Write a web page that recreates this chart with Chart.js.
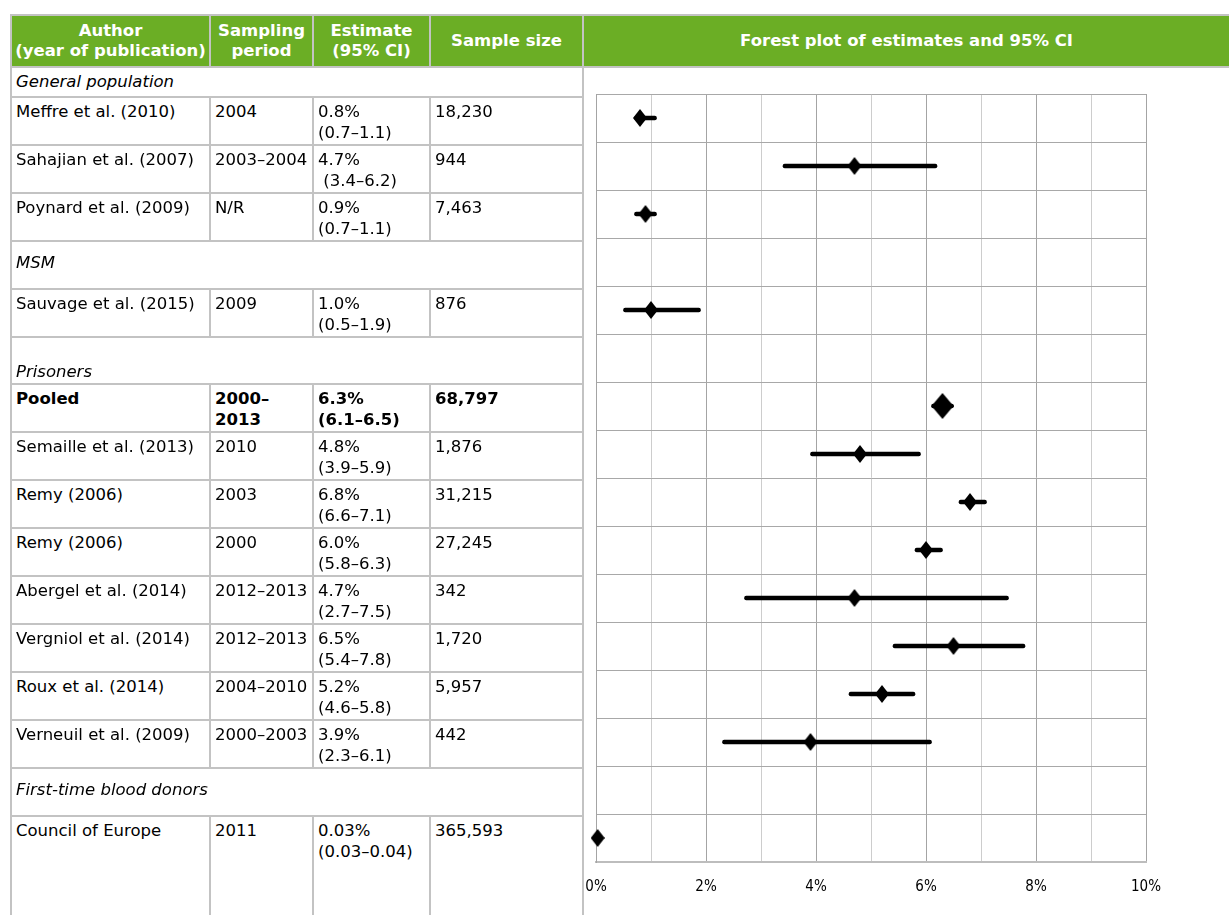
<!DOCTYPE html>
<html>
<head>
<meta charset="utf-8">
<script src="https://cdn.jsdelivr.net/npm/chart.js@4.4.0/dist/chart.umd.min.js"></script>
<style>
    body { margin: 0; background: #fff; font-family: "DejaVu Sans", Verdana, sans-serif; }
    #page { position: relative; width: 1229px; height: 915px; overflow: hidden; }
    .cell { position: absolute; box-sizing: border-box; overflow: hidden; font-size: 16.5px; line-height: 21px; padding: 3px 4px; white-space: pre; color: #000; }
    .line { position: absolute; background: #c3c3c3; }
    .head { position: absolute; box-sizing: border-box; background: #6bae25; color: #fff; font-weight: bold; font-size: 16.5px; line-height: 20px; display: flex; align-items: center; justify-content: center; text-align: center; }
    #chartBox { position: absolute; left: 584px; top: 67px; width: 645px; height: 848px; }
</style>
</head>
<body>
<div id="page">
    <div id="chartBox"><canvas id="forest" width="645" height="848"></canvas></div>
</div>
<script>
// Table / chart data
const headers = ["Author\n(year of publication)", "Sampling\nperiod", "Estimate\n(95% CI)", "Sample size"];
const plotTitle = "Forest plot of estimates and 95% CI";
const firstGroup = "General population";

const rowLabels = ["Meffre et al. (2010)", "Sahajian et al. (2007)", "Poynard et al. (2009)", "MSM",
    "Sauvage et al. (2015)", "Prisoners", "Pooled", "Semaille et al. (2013)", "Remy (2006)", "Remy (2006)",
    "Abergel et al. (2014)", "Vergniol et al. (2014)", "Roux et al. (2014)", "Verneuil et al. (2009)",
    "First-time blood donors", "Council of Europe"];
const isGroup = [0, 0, 0, 1, 0, 1, 0, 0, 0, 0, 0, 0, 0, 0, 1, 0];
const periods = ["2004", "2003–2004", "N/R", "", "2009", "", "2000–\n2013", "2010", "2003", "2000",
    "2012–2013", "2012–2013", "2004–2010", "2000–2003", "", "2011"];
const estText = ["0.8%", "4.7%", "0.9%", "", "1.0%", "", "6.3%", "4.8%", "6.8%", "6.0%",
    "4.7%", "6.5%", "5.2%", "3.9%", "", "0.03%"];
const ciText = ["(0.7–1.1)", " (3.4–6.2)", "(0.7–1.1)", "", "(0.5–1.9)", "", "(6.1–6.5)", "(3.9–5.9)", "(6.6–7.1)", "(5.8–6.3)",
    "(2.7–7.5)", "(5.4–7.8)", "(4.6–5.8)", "(2.3–6.1)", "", "(0.03–0.04)"];
const sampleSizes = ["18,230", "944", "7,463", "", "876", "", "68,797", "1,876", "31,215", "27,245",
    "342", "1,720", "5,957", "442", "", "365,593"];

const estimate = [0.8, 4.7, 0.9, null, 1.0, null, 6.3, 4.8, 6.8, 6.0, 4.7, 6.5, 5.2, 3.9, null, 0.03];
const ciLow = [0.7, 3.4, 0.7, null, 0.5, null, 6.1, 3.9, 6.6, 5.8, 2.7, 5.4, 4.6, 2.3, null, 0.03];
const ciHigh = [1.1, 6.2, 1.1, null, 1.9, null, 6.5, 5.9, 7.1, 6.3, 7.5, 7.8, 5.8, 6.1, null, 0.04];
const pooledRow = 6;

const xTicks = [0, 2, 4, 6, 8, 10];

// ---- table ----
const page = document.getElementById("page");
const colX = [12, 211, 314, 431, 582];
const tableTop = 97;
const rowH = 47.9;

function add(cls, x, y, w, h, text, extra) {
    const d = document.createElement("div");
    d.className = cls;
    d.style.left = x + "px";
    d.style.top = y + "px";
    d.style.width = w + "px";
    d.style.height = h + "px";
    if (text !== undefined) d.textContent = text;
    if (extra) Object.assign(d.style, extra);
    page.appendChild(d);
    return d;
}

// header
add("line", 10, 14, 1219, 2);
add("line", 10, 66, 1219, 2);
for (let c = 0; c < 4; c++) {
    add("head", colX[c], 16, colX[c + 1] - colX[c] - 2 + (c == 3 ? 2 : 0), 50, headers[c], { whiteSpace: "pre" });
}
add("head", 584, 16, 645, 50, plotTitle);
for (let c = 1; c < 4; c++) add("line", colX[c] - 2, 16, 2, 50);

// outer verticals
add("line", 10, 14, 2, 901);
add("line", 582, 14, 2, 901);

// first group row
add("cell", 12, 68, 570, 28, firstGroup, { fontStyle: "italic", paddingTop: "3px" });
add("line", 10, tableTop - 1, 574, 2);

for (let i = 0; i < rowLabels.length; i++) {
    const top = Math.round(tableTop + i * rowH);
    const last = i == rowLabels.length - 1;
    const bottom = last ? 915 : Math.round(tableTop + (i + 1) * rowH);
    const h = bottom - top;
    if (!last) add("line", 10, bottom - 1, 574, 2);
    if (isGroup[i]) {
        const style = { fontStyle: "italic" };
        style.paddingTop = rowLabels[i] == "Prisoners" ? "23px" : "10px";
        add("cell", 12, top + 1, 570, h - 2, rowLabels[i], style);
        continue;
    }
    const cols = [rowLabels[i], periods[i], estText[i] + "\n" + ciText[i], sampleSizes[i]];
    for (let c = 0; c < 4; c++) {
        const style = {};
        if (i == pooledRow) style.fontWeight = "bold";
        add("cell", colX[c], top + 1, colX[c + 1] - colX[c] - 2, h - 2, cols[c], style);
        if (c > 0) add("line", colX[c] - 2, top, 2, h);
    }
}

// ---- forest plot ----
function diamond(w, h) {
    const c = document.createElement("canvas");
    c.width = w;
    c.height = h;
    const g = c.getContext("2d");
    g.fillStyle = "#000";
    g.beginPath();
    g.moveTo(w / 2, 0);
    g.lineTo(w, h / 2);
    g.lineTo(w / 2, h);
    g.lineTo(0, h / 2);
    g.closePath();
    g.fill();
    return c;
}
const smallDiamond = diamond(14, 18);
const bigDiamond = diamond(22, 26);
const pointStyles = estimate.map((v, i) => i == pooledRow ? bigDiamond : smallDiamond);

new Chart("forest", {
    type: "bar",
    data: {
        labels: rowLabels,
        datasets: [
            {
                type: "bar",
                indexAxis: "y",
                data: ciLow.map((lo, i) => lo == null ? null : [lo, ciHigh[i]]),
                backgroundColor: "#000",
                barThickness: 4,
                borderRadius: 2,
                borderSkipped: false,
                clip: false,
                order: 2,
            },
            {
                type: "line",
                indexAxis: "y",
                data: estimate,
                showLine: false,
                pointStyle: pointStyles,
                pointRadius: 8,
                clip: false,
                order: 1,
            },
        ],
    },
    options: {
        indexAxis: "y",
        responsive: false,
        animation: false,
        layout: { padding: { left: 12, right: 83, top: 27, bottom: 0 } },
        plugins: { legend: { display: false }, tooltip: { enabled: false } },
        scales: {
            x: {
                type: "linear",
                min: 0,
                max: 10,
                ticks: {
                    stepSize: 1,
                    autoSkip: false,
                    maxRotation: 0,
                    padding: 16,
                    color: "#000",
                    font: { family: "'Liberation Sans Narrow', 'DejaVu Sans Condensed', 'DejaVu Sans'", size: 15 },
                    callback: v => xTicks.includes(v) ? v + "%" : "",
                },
                grid: {
                    color: ctx => ctx.tick && ctx.tick.value % 2 == 0 ? "#a4a4a4" : "#cdcdcd",
                    drawTicks: false,
                },
                border: { color: "#bdbdbd", width: 2 },
                afterFit: axis => {
                    axis.height = 53;
                    axis.paddingLeft = 0;
                    axis.paddingRight = 0;
                },
            },
            y: {
                type: "category",
                grid: { offset: true, color: "#a8a8a8", drawTicks: false },
                ticks: { display: false },
                border: { display: true, color: "#a4a4a4" },
                afterFit: axis => { axis.width = 0; },
            },
        },
    },
});
</script>
</body>
</html>
